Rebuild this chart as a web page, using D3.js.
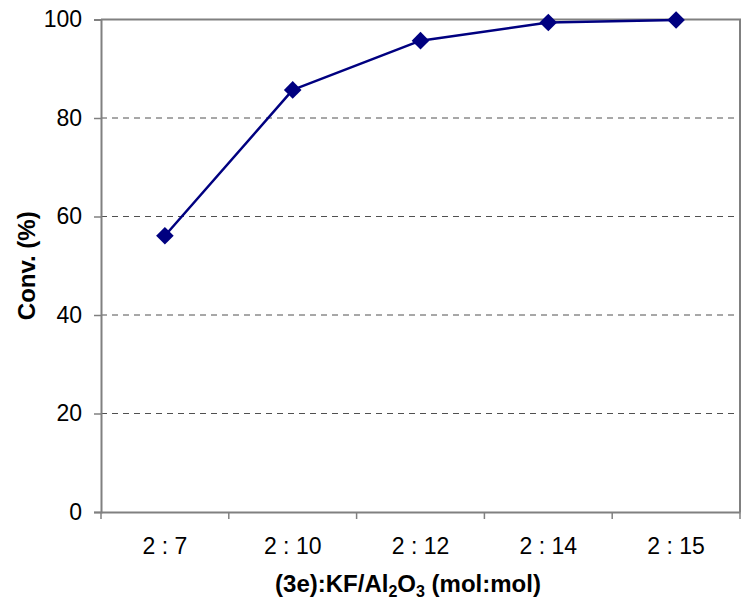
<!DOCTYPE html>
<html>
<head>
<meta charset="utf-8">
<script src="https://cdn.jsdelivr.net/npm/d3@7"></script>
<style>
  body { margin: 0; background: #fff; }
  svg { display: block; font-family: "Liberation Sans", Arial, sans-serif; }
</style>
</head>
<body>
<div id="container"></div>
<script>
// chart data
var categories = ["2 : 7", "2 : 10", "2 : 12", "2 : 14", "2 : 15"];
var conversion = [56.1, 85.7, 95.7, 99.4, 99.9];
var yTicks = [0, 20, 40, 60, 80, 100];

var W = 749, H = 613;
var plot = {left: 101, right: 740, top: 19.5, bottom: 512};

var svg = d3.select("div#container")
  .append("svg")
  .attr("width", W)
  .attr("height", H);

var x = d3.scaleBand().domain(categories).range([plot.left, plot.right]).padding(0);
var y = d3.scaleLinear().domain([0, 100]).range([plot.bottom, plot.top]);

// dashed gridlines
svg.append("g")
  .selectAll("line")
  .data(yTicks.filter(function(d) { return d > 0 && d < 100; }))
  .enter().append("line")
  .attr("x1", plot.left).attr("x2", plot.right)
  .attr("y1", function(d) { return y(d); })
  .attr("y2", function(d) { return y(d); })
  .attr("stroke", "#505050")
  .attr("stroke-width", 1)
  .attr("stroke-dasharray", "6,5");

// frame (top and right)
svg.append("path")
  .attr("d", "M" + plot.left + "," + plot.top + "H" + plot.right + "V" + plot.bottom)
  .attr("fill", "none")
  .attr("stroke", "#808080")
  .attr("stroke-width", 2);

// y axis
var yAxis = svg.append("g")
  .attr("transform", "translate(" + plot.left + ",0)")
  .call(d3.axisLeft(y).tickValues(yTicks).tickSize(7).tickPadding(12));
yAxis.select(".domain").attr("stroke", "#808080").attr("stroke-width", 2);
yAxis.selectAll(".tick line").attr("stroke", "#808080").attr("stroke-width", 1.5);
yAxis.selectAll("text").attr("font-size", 23).attr("fill", "#000")
  .attr("font-family", "Liberation Sans, Arial, sans-serif");

// x axis: labels at band centers, ticks at band edges
var xAxis = svg.append("g")
  .attr("transform", "translate(0," + plot.bottom + ")")
  .call(d3.axisBottom(x).tickSize(0).tickPadding(26).tickSizeOuter(0));
xAxis.select(".domain").attr("stroke", "#808080").attr("stroke-width", 2);
xAxis.selectAll("text").attr("font-size", 23).attr("fill", "#000")
  .attr("font-family", "Liberation Sans, Arial, sans-serif");

var edges = categories.map(function(c) { return x(c); }).concat([x.range()[1]]);
xAxis.selectAll(".edge")
  .data(edges)
  .enter().append("line")
  .attr("class", "edge")
  .attr("x1", function(d) { return d; }).attr("x2", function(d) { return d; })
  .attr("y1", 0).attr("y2", 7)
  .attr("stroke", "#808080")
  .attr("stroke-width", 1.5);

// series line
var line = d3.line()
  .x(function(d, i) { return x(categories[i]) + x.bandwidth() / 2; })
  .y(function(d) { return y(d); });

svg.append("path")
  .datum(conversion)
  .attr("fill", "none")
  .attr("stroke", "#000080")
  .attr("stroke-width", 2.5)
  .attr("stroke-linejoin", "round")
  .attr("d", line);

// diamond markers
svg.append("g")
  .selectAll("path")
  .data(conversion)
  .enter().append("path")
  .attr("d", d3.symbol().type(d3.symbolSquare).size(155))
  .attr("transform", function(d, i) {
    return "translate(" + (x(categories[i]) + x.bandwidth() / 2) + "," + y(d) + ") rotate(45)";
  })
  .attr("fill", "#000080");

// axis titles
svg.append("text")
  .attr("transform", "translate(35," + ((plot.top + plot.bottom) / 2) + ") rotate(-90)")
  .attr("text-anchor", "middle")
  .attr("font-size", 24)
  .attr("font-weight", "bold")
  .text("Conv. (%)");

var xt = svg.append("text")
  .attr("x", 408)
  .attr("y", 592)
  .attr("text-anchor", "middle")
  .attr("font-size", 24)
  .attr("font-weight", "bold");
xt.append("tspan").text("(3e):KF/Al");
xt.append("tspan").attr("font-size", 16).attr("dy", 5).text("2");
xt.append("tspan").attr("dy", -5).text("O");
xt.append("tspan").attr("font-size", 16).attr("dy", 5).text("3");
xt.append("tspan").attr("dy", -5).text(" (mol:mol)");
</script>
</body>
</html>
